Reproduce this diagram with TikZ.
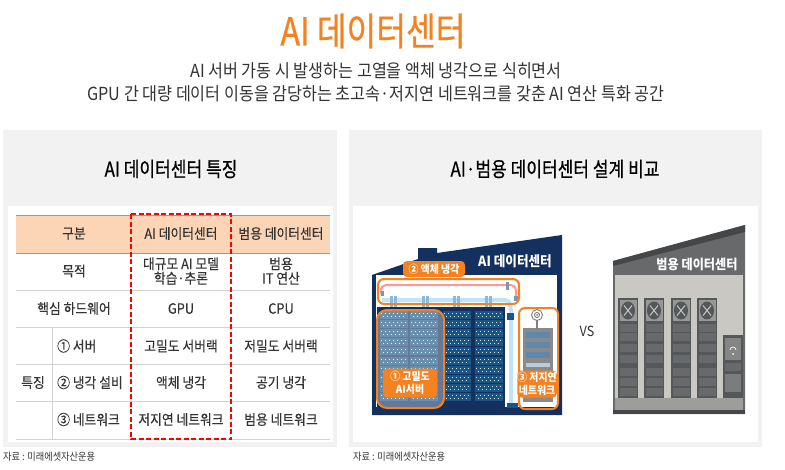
\documentclass[tikz,border=0pt]{standalone}
\usepackage{fontspec}
\setmainfont{Noto Sans CJK KR}[FakeStretch=0.9]
\newfontfamily\headfont{Noto Sans CJK KR}[FakeStretch=0.84,FakeBold=0.6]
\newfontfamily\cellfont{Noto Sans CJK KR}[FakeStretch=0.9,FakeBold=0.25]
\usepackage{xcolor}
\usetikzlibrary{positioning,calc}
\definecolor{orangeAI}{HTML}{F58220}
\definecolor{headfill}{HTML}{FBD5B5}
\definecolor{panelgray}{HTML}{F2F2F2}
\definecolor{rowline}{HTML}{D2D2D2}
\definecolor{inktext}{HTML}{333333}
\definecolor{navyroof}{HTML}{14305F}
\definecolor{rackblue}{HTML}{1B5586}
\definecolor{pipeblue}{HTML}{BFE3F7}
\definecolor{wallgray}{HTML}{C9C8C2}
\definecolor{roofgray}{HTML}{68696A}
\definecolor{rackgray}{HTML}{55585A}
\tikzset{cell/.style={text=inktext,font=\cellfont\fontsize{14.2}{14.5}\selectfont,align=center,inner sep=0pt}}
\tikzset{panelhead/.style={text=black,font=\headfont\fontsize{20.3}{22}\selectfont,inner sep=0pt}}
\tikzset{source/.style={text=inktext,font=\fontsize{10.2}{11}\selectfont,anchor=west,inner sep=0pt}}
\tikzset{callout/.style={fill=orangeAI,rounded corners=4pt,text=white,font=\fontsize{11}{12.5}\bfseries\selectfont,align=center,inner sep=0pt}}
\tikzset{ring/.style={draw=orangeAI,line width=2pt,rounded corners=6pt}}
\tikzset{shelf/.style={fill=rackblue,draw=none}}
\tikzset{specks/.style={draw=white!85!rackblue,line width=0.7pt,dash pattern=on 0.7pt off 3.3pt}}
\begin{document}
\begin{tikzpicture}[x=1pt,y=-1pt]
    \useasboundingbox (0,0) rectangle (785,469);
    \fill[white] (0,0) rectangle (785,469);
    \node[text=orangeAI,font=\headfont\fontsize{38.5}{40}\selectfont,inner sep=0pt] (title) at (373,31) {AI 데이터센터};
    \node[text=inktext,font=\fontsize{18}{23}\selectfont,align=center,inner sep=0pt] (subtitle) at (376,82) {AI 서버 가동 시 발생하는 고열을 액체 냉각으로 식히면서\\GPU 간 대량 데이터 이동을 감당하는 초고속·저지연 네트워크를 갖춘 AI 연산 특화 공간};

    \fill[panelgray] (3,130) rectangle (337,447);
    \fill[panelgray] (349,130) rectangle (762,447);
    \fill[white] (8,206) rectangle (333,442);
    \fill[white] (353,206) rectangle (758,442);
    \node[panelhead] (lefthead) at (171,169) {AI 데이터센터 특징};
    \node[panelhead] (righthead) at (555,169) {AI·범용 데이터센터 설계 비교};
    \node[source] (leftsource) at (3,457) {자료 : 미래에셋자산운용};
    \node[source] (rightsource) at (353,457) {자료 : 미래에셋자산운용};

    \fill[headfill] (16,215) rectangle (330,253);
    \draw[orangeAI,line width=1pt] (16,215) -- (330,215);
    \draw[orangeAI,line width=1pt] (16,253) -- (330,253);
    \foreach \yrow in {290,327,364,401,439}
        \draw[rowline,line width=1pt] (16,\yrow) -- (330,\yrow);
    \draw[rowline,line width=1pt] (52,327) -- (52,439);
    \draw[red,line width=1.6pt,dash pattern=on 5pt off 2.5pt] (131,214) rectangle (231,439);

    \node[cell] (gubun) at (74,233.5) {구분};
    \node[cell] (headai) at (181,233.5) {AI 데이터센터};
    \node[cell] (headgen) at (281,233.5) {범용 데이터센터};
    \node[cell] (mokjeok) at (74,271) {목적};
    \node[cell] (goalai) at (181,271) {대규모 AI 모델\\학습·추론};
    \node[cell] (goalgen) at (281,271) {범용\\IT 연산};
    \node[cell] (hardware) at (74,308.5) {핵심 하드웨어};
    \node[cell] (gpu) at (181,308.5) {GPU};
    \node[cell] (cpu) at (281,308.5) {CPU};
    \node[cell] (feature) at (33,382.5) {특징};
    \node[cell,anchor=west] (server) at (57,346) {① 서버};
    \node[cell] (serverai) at (181,346) {고밀도 서버랙};
    \node[cell] (servergen) at (281,346) {저밀도 서버랙};
    \node[cell,anchor=west] (cooling) at (57,382.5) {② 냉각 설비};
    \node[cell] (coolingai) at (181,382.5) {액체 냉각};
    \node[cell] (coolinggen) at (281,382.5) {공기 냉각};
    \node[cell,anchor=west] (network) at (57,419.5) {③ 네트워크};
    \node[cell] (networkai) at (181,419.5) {저지연 네트워크};
    \node[cell] (networkgen) at (281,419.5) {범용 네트워크};

    \fill[navyroof] (372,275) -- (418,259) -- (418,248) -- (437,248) -- (437,253) -- (562,235) -- (562,415) -- (372,415) -- cycle;
    \fill[white] (376,275) rectangle (557,407);
    \node[text=white,font=\fontsize{14}{16}\bfseries\selectfont,inner sep=0pt] (houseai) at (515,261) {AI 데이터센터};
    \fill[navyroof] (377,307) rectangle (505,408);
    \foreach \xcol in {380,410,443,475}
        \foreach \yrow in {311,320,329,338,347,357,366,375,384,393}
        {
            \fill[shelf] (\xcol,\yrow) rectangle ++(28,8);
            \draw[specks] ($(\xcol,\yrow)+(1,2.5)$) -- ++(26,0);
            \draw[specks] ($(\xcol,\yrow)+(2.5,5.5)$) -- ++(24,0);
        }
    \fill[white,opacity=0.35,rounded corners=8pt] (377,310) rectangle (444,408);
    \draw[ring,rounded corners=10pt] (377,310) rectangle (444,408);
    \draw[red!40!white,line width=2pt,rounded corners=5pt] (381,288) -- (381,285) -- (516,285) -- (516,296);
    \draw[pipeblue,line width=4pt,rounded corners=5pt] (382,300) -- (510,300) -- (511,313) -- (511,403);
    \foreach \xpipe in {390,422,453,485}
    {
        \fill[pipeblue!70!rackblue] (\xpipe,296) rectangle ++(3,11);
        \fill[pipeblue!70!rackblue] (\xpipe+4,296) rectangle ++(3,11);
    }
    \fill[rackblue] (507,313) rectangle ++(7,7);
    \fill[rackblue] (507,403) rectangle ++(11,5);
    \fill[rackblue!60!white] (506,282) rectangle ++(3,8);
    \fill[rackblue!60!white] (514,296) rectangle ++(4,5);
    \fill[rackblue!60!white] (381,291) rectangle ++(3,5);
    \draw[ring] (378,279) rectangle (519,304);
    \node[callout,minimum width=62pt,minimum height=16pt] (calloutcool) at (434,269) {② 액체 냉각};

    \fill[rackgray!70!white] (523,328) rectangle (553,402);
    \foreach \yrow in {332,342,352}
        \fill[rackblue!70!white] (526,\yrow) rectangle ++(24,6);
    \fill[rackblue!30!white] (526,363) rectangle ++(24,4);
    \draw[gray,line width=1.4pt] (537,320) -- (537,329);
    \draw[gray,line width=0.9pt] (537,315) circle (2.5pt);
    \draw[gray,line width=0.9pt] (537,315) circle (5.5pt);
    \fill[gray] (537,315) circle (1pt);
    \draw[ring] (519,308) rectangle (558,409);
    \node[callout,minimum width=39pt,minimum height=27pt] (calloutnet) at (537,384) {③ 저지연\\네트워크};
    \node[callout,minimum width=54pt,minimum height=29pt] (calloutserver) at (410,383) {① 고밀도\\AI서버};

    \node[text=inktext,font=\fontsize{14}{16}\selectfont,inner sep=0pt] (vs) at (587,331) {VS};

    \fill[roofgray] (613,261) -- (745,225) -- (745,414) -- (613,414) -- cycle;
    \fill[rackgray!80!black] (613,261) -- (745,225) -- (745,232) -- (613,266) -- cycle;
    \fill[wallgray] (615,275) rectangle (743,398);
    \fill[gray!60!wallgray] (615,398) rectangle (743,410);
    \fill[rackgray!80!black] (613,410) rectangle (745,414);
    \node[text=white,font=\fontsize{13.5}{15}\bfseries\selectfont,inner sep=0pt] (housegen) at (697,264) {범용 데이터센터};
    \foreach \xcol in {618,644,671,697}
    {
        \fill[rackgray] (\xcol,298) rectangle ++(20,100);
        \fill[roofgray!50!wallgray] ($(\xcol,298)+(1.5,2)$) rectangle ++(17,21);
        \fill[rackgray] ($(\xcol,298)+(10,12.5)$) ellipse (7pt and 9pt);
        \draw[wallgray,line width=1pt] ($(\xcol,298)+(6,7.5)$) -- ++(8,10);
        \draw[wallgray,line width=1pt] ($(\xcol,298)+(14,7.5)$) -- ++(-8,10);
        \foreach \yrow in {26,35,46,57,70,80,90}
            \fill[roofgray] ($(\xcol,298)+(1.5,\yrow)$) rectangle ++(17,8);
    }
    \fill[rackgray] (723,335) rectangle (743,398);
    \fill[roofgray!70!wallgray] (725,338) rectangle (741,360);
    \draw[white,line width=0.7pt] (730,350) arc (180:0:3pt);
    \fill[white] (733,354) circle (1pt);
    \fill[roofgray] (725,363) rectangle (741,371);
    \fill[roofgray!80!wallgray] (725,374) rectangle (741,392);
\end{tikzpicture}
\end{document}
